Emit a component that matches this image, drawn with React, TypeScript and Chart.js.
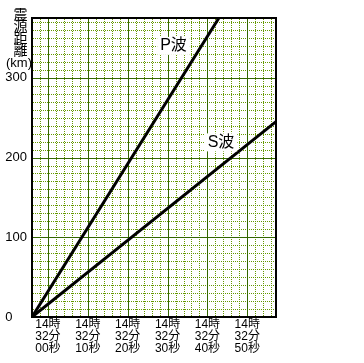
import { useEffect, useRef } from "react";
import { Chart, registerables } from "chart.js";

Chart.register(...registerables);

// ---- data ----
const xTickSeconds = [0, 10, 20, 30, 40, 50];
const xTickLabels = [
  ["14時", "32分", "00秒"],
  ["14時", "32分", "10秒"],
  ["14時", "32分", "20秒"],
  ["14時", "32分", "30秒"],
  ["14時", "32分", "40秒"],
  ["14時", "32分", "50秒"],
];
const yTickValues = [0, 100, 200, 300];
const yTickLabels = ["0", "100", "200", "300"];

const pTimes = [-4, 43];
const pDistances = [0, 376];
const sTimes = [-4, 57.2];
const sDistances = [0, 245];

const waveLabels = ["P波", "S波"];
const waveLabelTimes = [31.5, 43.4];
const waveLabelDistances = [340, 219];

const yTitleChars = ["震", "源", "距", "離"];
const yTitleUnit = "(km)";

const X_MIN = -4;
const X_MAX = 57.2;
const Y_MIN = 0;
const Y_MAX = 375;
const X_MINOR_STEP = 2;
const Y_MINOR_STEP = 10;

const FONT = "'Liberation Sans', 'Noto Sans CJK JP', sans-serif";
const MAJOR = "#336600";
const MINOR = "#669900";

const gridPlugin = {
  id: "gridLines",
  beforeDatasetsDraw(chart: any) {
    const { ctx, chartArea, scales } = chart;
    const { left, right, top, bottom } = chartArea;
    ctx.save();
    ctx.lineWidth = 1;
    // minor dotted
    ctx.fillStyle = MINOR;
    for (let t = X_MIN + X_MINOR_STEP; t < X_MAX; t += X_MINOR_STEP) {
      if (Math.abs(t % 10) < 1e-6) continue;
      const px = Math.round(scales.x.getPixelForValue(t));
      for (let y = Math.ceil(top) + 1; y < bottom; y += 2) ctx.fillRect(px, y, 1, 1);
    }
    for (let d = Y_MIN + Y_MINOR_STEP; d < Y_MAX; d += Y_MINOR_STEP) {
      if (Math.abs(d % 100) < 1e-6) continue;
      const py = Math.round(scales.y.getPixelForValue(d));
      for (let x = Math.ceil(left) + 1; x < right; x += 2) ctx.fillRect(x, py, 1, 1);
    }
    // major solid
    ctx.fillStyle = MAJOR;
    xTickSeconds.forEach((t) => {
      const px = Math.round(scales.x.getPixelForValue(t));
      ctx.fillRect(px, top, 1, bottom - top);
    });
    yTickValues.forEach((d) => {
      if (d === Y_MIN) return;
      const py = Math.round(scales.y.getPixelForValue(d));
      ctx.fillRect(left, py, right - left, 1);
    });
    ctx.restore();
  },
};

const annotationPlugin = {
  id: "waveLabels",
  afterDatasetsDraw(chart: any) {
    const { ctx, scales, chartArea } = chart;
    ctx.save();
    ctx.font = `16px ${FONT}`;
    ctx.textAlign = "center";
    ctx.textBaseline = "middle";
    waveLabels.forEach((txt, i) => {
      const px = scales.x.getPixelForValue(waveLabelTimes[i]);
      const py = scales.y.getPixelForValue(waveLabelDistances[i]);
      const w = ctx.measureText(txt).width;
      ctx.fillStyle = "#ffffff";
      ctx.fillRect(px - w / 2 - 3, py - 9, w + 6, 18);
      ctx.fillStyle = "#000000";
      ctx.fillText(txt, px, py);
    });
    // frame
    ctx.strokeStyle = "#000000";
    ctx.lineWidth = 2;
    ctx.strokeRect(
      Math.round(chartArea.left),
      Math.round(chartArea.top),
      Math.round(chartArea.right) - Math.round(chartArea.left),
      Math.round(chartArea.bottom) - Math.round(chartArea.top)
    );
    ctx.restore();
  },
  afterDraw(chart: any) {
    const { ctx } = chart;
    ctx.save();
    ctx.fillStyle = "#000000";
    ctx.textAlign = "center";
    ctx.textBaseline = "middle";
    ctx.font = `14px 'Noto Sans CJK JP', sans-serif`;
    yTitleChars.forEach((c, i) => {
      ctx.fillText(c, 20.5, 13.5 + i * 12);
    });
    ctx.font = `13px ${FONT}`;
    ctx.fillText(yTitleUnit, 19, 63);
    ctx.restore();
  },
};

export default function App() {
  const ref = useRef<HTMLCanvasElement | null>(null);

  useEffect(() => {
    if (!ref.current) return;
    const chart = new Chart(ref.current, {
      type: "line",
      data: {
        datasets: [
          {
            label: "P波",
            data: pTimes.map((t, i) => ({ x: t, y: pDistances[i] })),
            borderColor: "#000000",
            borderWidth: 3,
            pointRadius: 0,
            fill: false,
          },
          {
            label: "S波",
            data: sTimes.map((t, i) => ({ x: t, y: sDistances[i] })),
            borderColor: "#000000",
            borderWidth: 3,
            pointRadius: 0,
            fill: false,
          },
        ],
      },
      options: {
        responsive: false,
        animation: false,
        layout: { padding: { top: 18, right: 88, left: 0, bottom: 0 } },
        plugins: {
          legend: { display: false },
          tooltip: { enabled: false },
        },
        scales: {
          x: {
            type: "linear",
            position: "bottom",
            min: X_MIN,
            max: X_MAX,
            afterBuildTicks: (s: any) => {
              s.ticks = xTickSeconds.map((v) => ({ value: v }));
            },
            ticks: {
              autoSkip: false,
              maxRotation: 0,
              minRotation: 0,
              padding: 2,
              color: "#000000",
              font: { size: 12, family: FONT, lineHeight: 0.98 },
              callback: (v: any) => xTickLabels[xTickSeconds.indexOf(Number(v))],
            },
            grid: { display: false, drawTicks: false },
            border: { display: false },
            afterFit: (s: any) => {
              s.height = 46;
            },
          },
          y: {
            type: "linear",
            position: "left",
            min: Y_MIN,
            max: Y_MAX,
            afterBuildTicks: (s: any) => {
              s.ticks = yTickValues.map((v) => ({ value: v }));
            },
            ticks: {
              padding: 5,
              color: "#000000",
              font: { size: 13, family: FONT },
              callback: (v: any) => {
                const lbl = yTickLabels[yTickValues.indexOf(Number(v))];
                return lbl === "0" ? "0    " : lbl;
              },
            },
            grid: { display: false, drawTicks: false },
            border: { display: false },
            afterFit: (s: any) => {
              s.width = 32;
            },
          },
        },
      } as any,
      plugins: [gridPlugin, annotationPlugin],
    });
    return () => chart.destroy();
  }, []);

  return (
    <div style={{ position: "fixed", left: 0, top: 0, width: 364, height: 363, background: "#ffffff" }}>
      <canvas ref={ref} width={364} height={363} style={{ display: "block", width: 364, height: 363 }} />
    </div>
  );
}
